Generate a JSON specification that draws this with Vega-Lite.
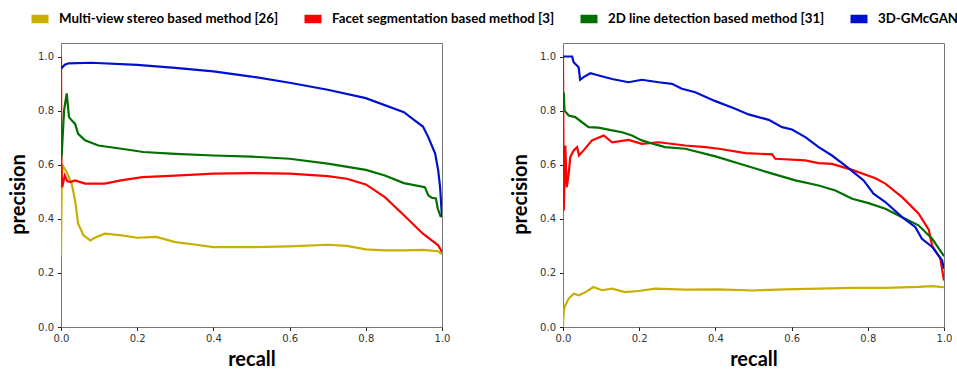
{
  "$schema": "https://vega.github.io/schema/vega-lite/v6.json",
  "padding": {"left": 8, "top": 6, "right": 5, "bottom": 5},
  "background": "white",
  "datasets": {
    "a": [
      {"s": "Multi-view stereo based method [26]", "r": 0, "v": 0.26},
      {"s": "Multi-view stereo based method [26]", "r": 0.002, "v": 0.55},
      {"s": "Multi-view stereo based method [26]", "r": 0.004, "v": 0.597},
      {"s": "Multi-view stereo based method [26]", "r": 0.015, "v": 0.573},
      {"s": "Multi-view stereo based method [26]", "r": 0.028, "v": 0.53},
      {"s": "Multi-view stereo based method [26]", "r": 0.037, "v": 0.468},
      {"s": "Multi-view stereo based method [26]", "r": 0.045, "v": 0.382},
      {"s": "Multi-view stereo based method [26]", "r": 0.059, "v": 0.339},
      {"s": "Multi-view stereo based method [26]", "r": 0.077, "v": 0.32},
      {"s": "Multi-view stereo based method [26]", "r": 0.089, "v": 0.33},
      {"s": "Multi-view stereo based method [26]", "r": 0.115, "v": 0.345},
      {"s": "Multi-view stereo based method [26]", "r": 0.159, "v": 0.339},
      {"s": "Multi-view stereo based method [26]", "r": 0.2, "v": 0.33},
      {"s": "Multi-view stereo based method [26]", "r": 0.25, "v": 0.333},
      {"s": "Multi-view stereo based method [26]", "r": 0.3, "v": 0.314},
      {"s": "Multi-view stereo based method [26]", "r": 0.35, "v": 0.305},
      {"s": "Multi-view stereo based method [26]", "r": 0.4, "v": 0.295},
      {"s": "Multi-view stereo based method [26]", "r": 0.5, "v": 0.295},
      {"s": "Multi-view stereo based method [26]", "r": 0.6, "v": 0.298},
      {"s": "Multi-view stereo based method [26]", "r": 0.7, "v": 0.304},
      {"s": "Multi-view stereo based method [26]", "r": 0.75, "v": 0.3},
      {"s": "Multi-view stereo based method [26]", "r": 0.8, "v": 0.287},
      {"s": "Multi-view stereo based method [26]", "r": 0.85, "v": 0.283},
      {"s": "Multi-view stereo based method [26]", "r": 0.9, "v": 0.283},
      {"s": "Multi-view stereo based method [26]", "r": 0.95, "v": 0.285},
      {"s": "Multi-view stereo based method [26]", "r": 0.99, "v": 0.28},
      {"s": "Multi-view stereo based method [26]", "r": 1.0, "v": 0.269},
      {"s": "Facet segmentation based method [3]", "r": 0, "v": 1.0},
      {"s": "Facet segmentation based method [3]", "r": 0.001, "v": 0.6},
      {"s": "Facet segmentation based method [3]", "r": 0.003, "v": 0.517},
      {"s": "Facet segmentation based method [3]", "r": 0.01, "v": 0.56},
      {"s": "Facet segmentation based method [3]", "r": 0.016, "v": 0.54},
      {"s": "Facet segmentation based method [3]", "r": 0.024, "v": 0.536},
      {"s": "Facet segmentation based method [3]", "r": 0.037, "v": 0.542},
      {"s": "Facet segmentation based method [3]", "r": 0.063, "v": 0.53},
      {"s": "Facet segmentation based method [3]", "r": 0.115, "v": 0.53},
      {"s": "Facet segmentation based method [3]", "r": 0.157, "v": 0.542},
      {"s": "Facet segmentation based method [3]", "r": 0.214, "v": 0.554},
      {"s": "Facet segmentation based method [3]", "r": 0.3, "v": 0.56},
      {"s": "Facet segmentation based method [3]", "r": 0.4, "v": 0.567},
      {"s": "Facet segmentation based method [3]", "r": 0.5, "v": 0.569},
      {"s": "Facet segmentation based method [3]", "r": 0.6, "v": 0.567},
      {"s": "Facet segmentation based method [3]", "r": 0.7, "v": 0.558},
      {"s": "Facet segmentation based method [3]", "r": 0.75, "v": 0.548},
      {"s": "Facet segmentation based method [3]", "r": 0.8, "v": 0.527},
      {"s": "Facet segmentation based method [3]", "r": 0.85, "v": 0.48},
      {"s": "Facet segmentation based method [3]", "r": 0.9, "v": 0.413},
      {"s": "Facet segmentation based method [3]", "r": 0.95, "v": 0.345},
      {"s": "Facet segmentation based method [3]", "r": 0.99, "v": 0.302},
      {"s": "Facet segmentation based method [3]", "r": 1.0, "v": 0.277},
      {"s": "2D line detection based method [31]", "r": 0, "v": 0.62},
      {"s": "2D line detection based method [31]", "r": 0.002, "v": 0.64},
      {"s": "2D line detection based method [31]", "r": 0.008, "v": 0.8},
      {"s": "2D line detection based method [31]", "r": 0.015, "v": 0.864},
      {"s": "2D line detection based method [31]", "r": 0.021, "v": 0.776},
      {"s": "2D line detection based method [31]", "r": 0.028, "v": 0.764},
      {"s": "2D line detection based method [31]", "r": 0.037, "v": 0.751},
      {"s": "2D line detection based method [31]", "r": 0.045, "v": 0.714},
      {"s": "2D line detection based method [31]", "r": 0.063, "v": 0.69},
      {"s": "2D line detection based method [31]", "r": 0.098, "v": 0.671},
      {"s": "2D line detection based method [31]", "r": 0.159, "v": 0.659},
      {"s": "2D line detection based method [31]", "r": 0.216, "v": 0.647},
      {"s": "2D line detection based method [31]", "r": 0.3, "v": 0.64},
      {"s": "2D line detection based method [31]", "r": 0.4, "v": 0.634},
      {"s": "2D line detection based method [31]", "r": 0.5, "v": 0.63},
      {"s": "2D line detection based method [31]", "r": 0.6, "v": 0.622},
      {"s": "2D line detection based method [31]", "r": 0.7, "v": 0.604},
      {"s": "2D line detection based method [31]", "r": 0.8, "v": 0.581},
      {"s": "2D line detection based method [31]", "r": 0.85, "v": 0.56},
      {"s": "2D line detection based method [31]", "r": 0.9, "v": 0.532},
      {"s": "2D line detection based method [31]", "r": 0.955, "v": 0.517},
      {"s": "2D line detection based method [31]", "r": 0.964, "v": 0.487},
      {"s": "2D line detection based method [31]", "r": 0.973, "v": 0.478},
      {"s": "2D line detection based method [31]", "r": 0.984, "v": 0.475},
      {"s": "2D line detection based method [31]", "r": 0.989, "v": 0.437},
      {"s": "2D line detection based method [31]", "r": 0.997, "v": 0.406},
      {"s": "3D-GMcGAN", "r": 0, "v": 0.955},
      {"s": "3D-GMcGAN", "r": 0.01, "v": 0.97},
      {"s": "3D-GMcGAN", "r": 0.02, "v": 0.975},
      {"s": "3D-GMcGAN", "r": 0.08, "v": 0.977},
      {"s": "3D-GMcGAN", "r": 0.2, "v": 0.969},
      {"s": "3D-GMcGAN", "r": 0.3, "v": 0.958},
      {"s": "3D-GMcGAN", "r": 0.4, "v": 0.945},
      {"s": "3D-GMcGAN", "r": 0.5, "v": 0.926},
      {"s": "3D-GMcGAN", "r": 0.6, "v": 0.903},
      {"s": "3D-GMcGAN", "r": 0.7, "v": 0.877},
      {"s": "3D-GMcGAN", "r": 0.8, "v": 0.846},
      {"s": "3D-GMcGAN", "r": 0.9, "v": 0.794},
      {"s": "3D-GMcGAN", "r": 0.929, "v": 0.763},
      {"s": "3D-GMcGAN", "r": 0.95, "v": 0.741},
      {"s": "3D-GMcGAN", "r": 0.964, "v": 0.702},
      {"s": "3D-GMcGAN", "r": 0.982, "v": 0.641},
      {"s": "3D-GMcGAN", "r": 0.99, "v": 0.579},
      {"s": "3D-GMcGAN", "r": 0.995, "v": 0.517},
      {"s": "3D-GMcGAN", "r": 0.998, "v": 0.45},
      {"s": "3D-GMcGAN", "r": 1.0, "v": 0.406}
    ],
    "b": [
      {"s": "Multi-view stereo based method [26]", "r": 0, "v": 0},
      {"s": "Multi-view stereo based method [26]", "r": 0.001, "v": 0.04},
      {"s": "Multi-view stereo based method [26]", "r": 0.004, "v": 0.074},
      {"s": "Multi-view stereo based method [26]", "r": 0.015, "v": 0.105},
      {"s": "Multi-view stereo based method [26]", "r": 0.028, "v": 0.123},
      {"s": "Multi-view stereo based method [26]", "r": 0.042, "v": 0.117},
      {"s": "Multi-view stereo based method [26]", "r": 0.059, "v": 0.129},
      {"s": "Multi-view stereo based method [26]", "r": 0.08, "v": 0.148},
      {"s": "Multi-view stereo based method [26]", "r": 0.102, "v": 0.136},
      {"s": "Multi-view stereo based method [26]", "r": 0.129, "v": 0.142},
      {"s": "Multi-view stereo based method [26]", "r": 0.163, "v": 0.129},
      {"s": "Multi-view stereo based method [26]", "r": 0.198, "v": 0.133},
      {"s": "Multi-view stereo based method [26]", "r": 0.242, "v": 0.142},
      {"s": "Multi-view stereo based method [26]", "r": 0.321, "v": 0.138},
      {"s": "Multi-view stereo based method [26]", "r": 0.409, "v": 0.139},
      {"s": "Multi-view stereo based method [26]", "r": 0.496, "v": 0.135},
      {"s": "Multi-view stereo based method [26]", "r": 0.584, "v": 0.139},
      {"s": "Multi-view stereo based method [26]", "r": 0.671, "v": 0.142},
      {"s": "Multi-view stereo based method [26]", "r": 0.759, "v": 0.145},
      {"s": "Multi-view stereo based method [26]", "r": 0.846, "v": 0.145},
      {"s": "Multi-view stereo based method [26]", "r": 0.933, "v": 0.148},
      {"s": "Multi-view stereo based method [26]", "r": 0.969, "v": 0.151},
      {"s": "Multi-view stereo based method [26]", "r": 1.0, "v": 0.147},
      {"s": "Facet segmentation based method [3]", "r": 0, "v": 1.0},
      {"s": "Facet segmentation based method [3]", "r": 0.001, "v": 0.7},
      {"s": "Facet segmentation based method [3]", "r": 0.002, "v": 0.431},
      {"s": "Facet segmentation based method [3]", "r": 0.006, "v": 0.671},
      {"s": "Facet segmentation based method [3]", "r": 0.01, "v": 0.517},
      {"s": "Facet segmentation based method [3]", "r": 0.015, "v": 0.567},
      {"s": "Facet segmentation based method [3]", "r": 0.019, "v": 0.628},
      {"s": "Facet segmentation based method [3]", "r": 0.028, "v": 0.653},
      {"s": "Facet segmentation based method [3]", "r": 0.037, "v": 0.665},
      {"s": "Facet segmentation based method [3]", "r": 0.042, "v": 0.634},
      {"s": "Facet segmentation based method [3]", "r": 0.054, "v": 0.653},
      {"s": "Facet segmentation based method [3]", "r": 0.076, "v": 0.69},
      {"s": "Facet segmentation based method [3]", "r": 0.107, "v": 0.708},
      {"s": "Facet segmentation based method [3]", "r": 0.129, "v": 0.683},
      {"s": "Facet segmentation based method [3]", "r": 0.172, "v": 0.692},
      {"s": "Facet segmentation based method [3]", "r": 0.207, "v": 0.677},
      {"s": "Facet segmentation based method [3]", "r": 0.251, "v": 0.683},
      {"s": "Facet segmentation based method [3]", "r": 0.321, "v": 0.671},
      {"s": "Facet segmentation based method [3]", "r": 0.374, "v": 0.665},
      {"s": "Facet segmentation based method [3]", "r": 0.409, "v": 0.659},
      {"s": "Facet segmentation based method [3]", "r": 0.479, "v": 0.643},
      {"s": "Facet segmentation based method [3]", "r": 0.549, "v": 0.638},
      {"s": "Facet segmentation based method [3]", "r": 0.557, "v": 0.622},
      {"s": "Facet segmentation based method [3]", "r": 0.636, "v": 0.616},
      {"s": "Facet segmentation based method [3]", "r": 0.671, "v": 0.606},
      {"s": "Facet segmentation based method [3]", "r": 0.706, "v": 0.603},
      {"s": "Facet segmentation based method [3]", "r": 0.759, "v": 0.581},
      {"s": "Facet segmentation based method [3]", "r": 0.82, "v": 0.55},
      {"s": "Facet segmentation based method [3]", "r": 0.846, "v": 0.53},
      {"s": "Facet segmentation based method [3]", "r": 0.89, "v": 0.48},
      {"s": "Facet segmentation based method [3]", "r": 0.933, "v": 0.42},
      {"s": "Facet segmentation based method [3]", "r": 0.96, "v": 0.36},
      {"s": "Facet segmentation based method [3]", "r": 0.969, "v": 0.3},
      {"s": "Facet segmentation based method [3]", "r": 0.99, "v": 0.255},
      {"s": "Facet segmentation based method [3]", "r": 1.0, "v": 0.172},
      {"s": "2D line detection based method [31]", "r": 0, "v": 0.8},
      {"s": "2D line detection based method [31]", "r": 0.002, "v": 0.868},
      {"s": "2D line detection based method [31]", "r": 0.004, "v": 0.8},
      {"s": "2D line detection based method [31]", "r": 0.015, "v": 0.782},
      {"s": "2D line detection based method [31]", "r": 0.032, "v": 0.776},
      {"s": "2D line detection based method [31]", "r": 0.05, "v": 0.757},
      {"s": "2D line detection based method [31]", "r": 0.067, "v": 0.739},
      {"s": "2D line detection based method [31]", "r": 0.093, "v": 0.737},
      {"s": "2D line detection based method [31]", "r": 0.129, "v": 0.727},
      {"s": "2D line detection based method [31]", "r": 0.155, "v": 0.72},
      {"s": "2D line detection based method [31]", "r": 0.181, "v": 0.708},
      {"s": "2D line detection based method [31]", "r": 0.207, "v": 0.69},
      {"s": "2D line detection based method [31]", "r": 0.242, "v": 0.675},
      {"s": "2D line detection based method [31]", "r": 0.268, "v": 0.665},
      {"s": "2D line detection based method [31]", "r": 0.321, "v": 0.659},
      {"s": "2D line detection based method [31]", "r": 0.4, "v": 0.631},
      {"s": "2D line detection based method [31]", "r": 0.479, "v": 0.597},
      {"s": "2D line detection based method [31]", "r": 0.549, "v": 0.567},
      {"s": "2D line detection based method [31]", "r": 0.61, "v": 0.542},
      {"s": "2D line detection based method [31]", "r": 0.671, "v": 0.523},
      {"s": "2D line detection based method [31]", "r": 0.715, "v": 0.505},
      {"s": "2D line detection based method [31]", "r": 0.759, "v": 0.474},
      {"s": "2D line detection based method [31]", "r": 0.802, "v": 0.458},
      {"s": "2D line detection based method [31]", "r": 0.846, "v": 0.437},
      {"s": "2D line detection based method [31]", "r": 0.89, "v": 0.406},
      {"s": "2D line detection based method [31]", "r": 0.933, "v": 0.376},
      {"s": "2D line detection based method [31]", "r": 0.969, "v": 0.326},
      {"s": "2D line detection based method [31]", "r": 1.0, "v": 0.262},
      {"s": "3D-GMcGAN", "r": 0, "v": 1.0},
      {"s": "3D-GMcGAN", "r": 0.024, "v": 1.0},
      {"s": "3D-GMcGAN", "r": 0.028, "v": 0.979},
      {"s": "3D-GMcGAN", "r": 0.041, "v": 0.96},
      {"s": "3D-GMcGAN", "r": 0.045, "v": 0.914},
      {"s": "3D-GMcGAN", "r": 0.054, "v": 0.924},
      {"s": "3D-GMcGAN", "r": 0.072, "v": 0.938},
      {"s": "3D-GMcGAN", "r": 0.094, "v": 0.93},
      {"s": "3D-GMcGAN", "r": 0.129, "v": 0.917},
      {"s": "3D-GMcGAN", "r": 0.172, "v": 0.905},
      {"s": "3D-GMcGAN", "r": 0.207, "v": 0.914},
      {"s": "3D-GMcGAN", "r": 0.251, "v": 0.905},
      {"s": "3D-GMcGAN", "r": 0.286, "v": 0.899},
      {"s": "3D-GMcGAN", "r": 0.312, "v": 0.881},
      {"s": "3D-GMcGAN", "r": 0.347, "v": 0.868},
      {"s": "3D-GMcGAN", "r": 0.4, "v": 0.835},
      {"s": "3D-GMcGAN", "r": 0.452, "v": 0.807},
      {"s": "3D-GMcGAN", "r": 0.487, "v": 0.786},
      {"s": "3D-GMcGAN", "r": 0.54, "v": 0.766},
      {"s": "3D-GMcGAN", "r": 0.575, "v": 0.739},
      {"s": "3D-GMcGAN", "r": 0.601, "v": 0.73},
      {"s": "3D-GMcGAN", "r": 0.636, "v": 0.702},
      {"s": "3D-GMcGAN", "r": 0.671, "v": 0.665},
      {"s": "3D-GMcGAN", "r": 0.706, "v": 0.634},
      {"s": "3D-GMcGAN", "r": 0.741, "v": 0.597},
      {"s": "3D-GMcGAN", "r": 0.767, "v": 0.567},
      {"s": "3D-GMcGAN", "r": 0.789, "v": 0.542},
      {"s": "3D-GMcGAN", "r": 0.815, "v": 0.493},
      {"s": "3D-GMcGAN", "r": 0.846, "v": 0.462},
      {"s": "3D-GMcGAN", "r": 0.89, "v": 0.406},
      {"s": "3D-GMcGAN", "r": 0.925, "v": 0.369},
      {"s": "3D-GMcGAN", "r": 0.942, "v": 0.326},
      {"s": "3D-GMcGAN", "r": 0.969, "v": 0.296},
      {"s": "3D-GMcGAN", "r": 0.995, "v": 0.246},
      {"s": "3D-GMcGAN", "r": 1.0, "v": 0.215}
    ]
  },
  "spacing": 121,
  "bounds": "flush",
  "resolve": {"scale": {"color": "shared"}, "legend": {"color": "shared"}},
  "hconcat": [
    {
      "width": 381,
      "height": 284,
      "data": {"name": "a"},
      "mark": {"type": "line", "strokeWidth": 2.2, "clip": true},
      "encoding": {
        "x": {"field": "r", "type": "quantitative", "scale": {"domain": [0, 1], "nice": false}, "axis": {"title": "recall", "values": [0, 0.2, 0.4, 0.6, 0.8, 1.0], "format": ".1f"}},
        "y": {"field": "v", "type": "quantitative", "scale": {"domain": [0, 1.05], "nice": false}, "axis": {"title": "precision", "values": [0, 0.2, 0.4, 0.6, 0.8, 1.0], "format": ".1f"}},
        "color": {"field": "s", "type": "nominal",
          "scale": {"domain": ["Multi-view stereo based method [26]", "Facet segmentation based method [3]", "2D line detection based method [31]", "3D-GMcGAN"], "range": ["#c8b000", "#ff0000", "#007000", "#0010d0"]},
          "legend": {"title": null}}
      }
    },
    {
      "width": 381,
      "height": 284,
      "data": {"name": "b"},
      "mark": {"type": "line", "strokeWidth": 2.2, "clip": true},
      "encoding": {
        "x": {"field": "r", "type": "quantitative", "scale": {"domain": [0, 1], "nice": false}, "axis": {"title": "recall", "values": [0, 0.2, 0.4, 0.6, 0.8, 1.0], "format": ".1f"}},
        "y": {"field": "v", "type": "quantitative", "scale": {"domain": [0, 1.05], "nice": false}, "axis": {"title": "precision", "values": [0, 0.2, 0.4, 0.6, 0.8, 1.0], "format": ".1f"}},
        "color": {"field": "s", "type": "nominal",
          "scale": {"domain": ["Multi-view stereo based method [26]", "Facet segmentation based method [3]", "2D line detection based method [31]", "3D-GMcGAN"], "range": ["#c8b000", "#ff0000", "#007000", "#0010d0"]},
          "legend": {"title": null}}
      }
    }
  ],
  "config": {
    "view": {"stroke": "#777", "strokeWidth": 1},
    "axis": {
      "domain": false, "grid": false, "labelFlush": false,
      "tickColor": "#222", "tickSize": 3.5, "tickWidth": 1,
      "labelFont": "DejaVu Sans", "labelFontSize": 10, "labelColor": "#333", "labelPadding": 3,
      "titleFont": "Lato", "titleFontSize": 20, "titleFontWeight": "bold", "titleColor": "black"
    },
    "axisX": {"titlePadding": 6},
    "axisY": {"titlePadding": 9, "labelPadding": 4, "titleY": 151},
    "legend": {
      "orient": "none", "legendX": -34, "legendY": -37, "padding": 0,
      "direction": "horizontal", "columns": 4, "columnPadding": 8,
      "symbolType": "stroke", "symbolSize": 289, "symbolStrokeWidth": 8.5,
      "labelFont": "Lato", "labelFontSize": 13.3, "labelFontWeight": "bold",
      "labelColor": "black", "labelOffset": 6, "labelLimit": 400
    }
  }
}
